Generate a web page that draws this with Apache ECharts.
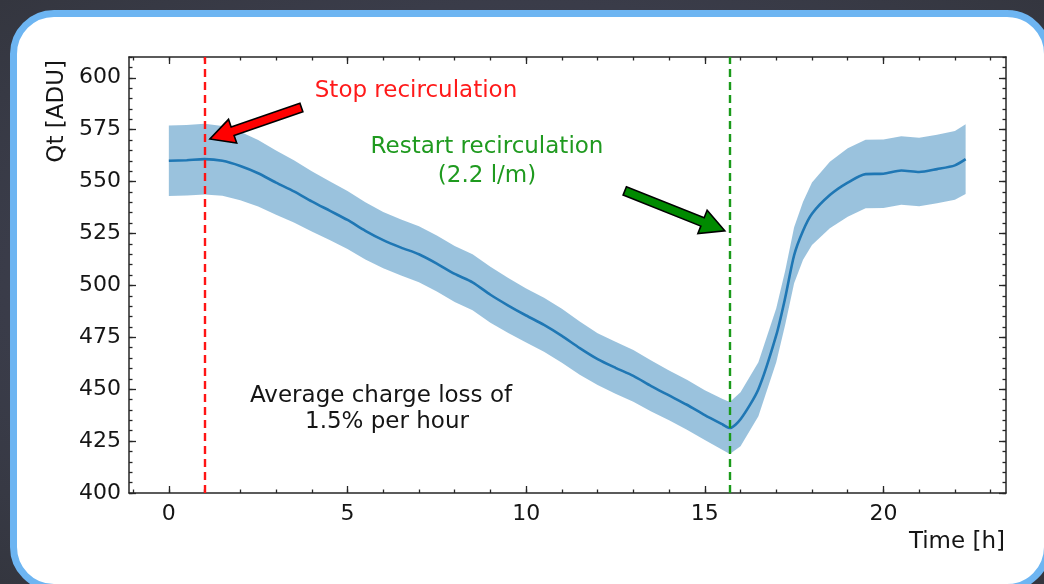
<!DOCTYPE html>
<html>
<head>
<meta charset="utf-8">
<title>Qt vs time during recirculation stop</title>
<script src="https://cdn.jsdelivr.net/npm/echarts@6/dist/echarts.min.js"></script>
<style>
  html, body { margin: 0; padding: 0; width: 1044px; height: 584px; overflow: hidden; }
  body { background: radial-gradient(ellipse at center, #44475a 0%, #3a3c49 70%, #34363f 100%); position: relative; }
  .frame {
    position: absolute; left: 10px; top: 10px; width: 1027px; height: 567px;
    border: 7px solid #6db5f2; border-radius: 44px; background: #ffffff;
  }
  #chart { position: absolute; left: 0; top: 0; width: 1044px; height: 584px; }
</style>
</head>
<body>
<div class="frame"></div>
<div id="chart"></div>
<script>
// Time since the start of the run, in hours
const hours = [0, 0.5, 1.0, 1.5, 2.0, 2.5, 3.0, 3.5, 4.0, 4.5, 5.0, 5.5, 6.0, 6.5, 7.0, 7.5,
  8.0, 8.5, 9.0, 9.5, 10.0, 10.5, 11.0, 11.5, 12.0, 12.5, 13.0, 13.5, 14.0, 14.5, 15.0, 15.5,
  15.7, 16.0, 16.5, 17.0, 17.25, 17.5, 17.75, 18.0, 18.5, 19.0, 19.5, 20.0, 20.5, 21.0, 21.5, 22.0, 22.3];

// Mean charge Qt [ADU]
const meanQt = [560.0, 560.3, 560.8, 560.0, 557.5, 554.0, 549.5, 545.3, 540.5, 536.0, 531.5, 526.3,
  521.8, 518.2, 515.0, 510.5, 505.5, 501.5, 495.5, 490.3, 485.5, 481.0, 475.7, 469.8, 464.5, 460.3,
  456.4, 451.5, 447.0, 442.5, 437.5, 433.0, 431.3, 435.5, 450.0, 476.0, 494.0, 514.5, 526.3, 534.5,
  543.5, 549.5, 553.6, 553.8, 555.3, 554.6, 556.0, 557.8, 560.8];

// Spread of Qt around the mean [ADU]
const spreadQt = [17.0, 17.0, 17.0, 16.8, 16.5, 16.0, 15.5, 15.0, 14.5, 14.2, 14.0, 13.8, 13.5,
  13.5, 13.5, 13.5, 13.5, 13.5, 13.5, 13.2, 13.0, 13.0, 13.0, 12.8, 12.5, 12.5, 12.5, 12.3, 12.0,
  12.0, 12.0, 12.3, 12.5, 13.0, 13.0, 13.0, 13.0, 13.5, 14.0, 15.0, 16.0, 16.5, 16.5, 16.5, 16.5,
  16.5, 16.5, 16.5, 16.8];

// Moments when recirculation was stopped and restarted [h]
const eventTimes = [1.0, 15.7];
const eventColors = ['#ff1414', '#1a9a1a'];

// Annotation arrows: [tail time, tail Qt, tip time, tip Qt]
const arrowRed = [3.71, 585.7, 1.15, 570.5];
const arrowGreen = [12.76, 545.5, 15.56, 526.3];

// Axis ticks
const xTicks = [0, 5, 10, 15, 20];
const yTicks = [400, 425, 450, 475, 500, 525, 550, 575, 600];
const xMinorTicks = [];
for (let t = -1; t <= 23; t += 1) xMinorTicks.push(t);
const yMinorTicks = [];
for (let v = 400; v <= 610; v += 5) yMinorTicks.push(v);

const X_MIN = -1.115, X_MAX = 23.43, Y_MIN = 400, Y_MAX = 610;
const FONT = 'DejaVu Sans';
const TXT = '#151515';
const AXIS = '#262626';

const meanLine = meanQt.map((m, i) => [hours[i], m]);
const bandRows = meanQt.map((m, i) => [hours[i], m - spreadQt[i], m + spreadQt[i]]);

function xAxisDef(pos, ticks, len, withLabels, withLine) {
  return {
    type: 'value', position: pos, min: X_MIN, max: X_MAX,
    axisLine: { show: withLine, onZero: false, lineStyle: { color: AXIS, width: 1.5 } },
    axisTick: { show: true, inside: true, length: len, customValues: ticks,
      lineStyle: { color: AXIS, width: 1.3 } },
    axisLabel: { show: withLabels, customValues: ticks, margin: 10,
      fontFamily: FONT, fontSize: 22, color: TXT },
    splitLine: { show: false }
  };
}
function yAxisDef(pos, ticks, len, withLabels, withLine) {
  return {
    type: 'value', position: pos, min: Y_MIN, max: Y_MAX,
    axisLine: { show: withLine, onZero: false, lineStyle: { color: AXIS, width: 1.5 } },
    axisTick: { show: true, inside: true, length: len, customValues: ticks,
      lineStyle: { color: AXIS, width: 1.3 } },
    axisLabel: { show: withLabels, customValues: ticks, margin: 8,
      fontFamily: FONT, fontSize: 22, color: TXT },
    splitLine: { show: false }
  };
}

// Shaded spread band, drawn as one polygon (lower edge forward, upper edge back)
function renderBand(params, api) {
  if (params.dataIndex !== 0) return null;
  const lower = bandRows.map(r => api.coord([r[0], r[1]]));
  const upper = bandRows.map(r => api.coord([r[0], r[2]])).reverse();
  return {
    type: 'polygon',
    shape: { points: lower.concat(upper) },
    style: { fill: 'rgba(31,119,180,0.45)' }
  };
}

function renderArrow(params, api) {
  const p0 = api.coord([api.value(0), api.value(1)]);
  const p1 = api.coord([api.value(2), api.value(3)]);
  const dx = p1[0] - p0[0], dy = p1[1] - p0[1];
  const len = Math.sqrt(dx * dx + dy * dy);
  const ux = dx / len, uy = dy / len, nx = -uy, ny = ux;
  const sw = 4.5, hw = 12.5, hl = 24;
  const bx = p1[0] - ux * hl, by = p1[1] - uy * hl;
  const pts = [
    [p0[0] + nx * sw, p0[1] + ny * sw],
    [bx + nx * sw, by + ny * sw],
    [bx + nx * hw, by + ny * hw],
    [p1[0], p1[1]],
    [bx - nx * hw, by - ny * hw],
    [bx - nx * sw, by - ny * sw],
    [p0[0] - nx * sw, p0[1] - ny * sw]
  ];
  return {
    type: 'polygon',
    shape: { points: pts },
    style: { fill: api.value(4) === 0 ? '#ff0000' : '#008a00', stroke: '#000', lineWidth: 1.6, lineJoin: 'miter' }
  };
}

const chart = echarts.init(document.getElementById('chart'), null, { renderer: 'canvas' });

chart.setOption({
  backgroundColor: 'transparent',
  animation: false,
  grid: { left: 129, top: 57, width: 877, height: 436, show: false },
  xAxis: [
    xAxisDef('bottom', xTicks, 7, true, true),
    xAxisDef('bottom', xMinorTicks, 3.5, false, false),
    xAxisDef('top', xTicks, 7, false, true),
    xAxisDef('top', xMinorTicks, 3.5, false, false)
  ],
  yAxis: [
    yAxisDef('left', yTicks, 7, true, true),
    yAxisDef('left', yMinorTicks, 3.5, false, false),
    yAxisDef('right', yTicks, 7, false, true),
    yAxisDef('right', yMinorTicks, 3.5, false, false)
  ],
  series: [
    {
      name: 'spread', type: 'custom', renderItem: renderBand, data: bandRows,
      encode: { x: 0, y: [1, 2] }, z: 1, silent: true
    },
    {
      name: 'mean', type: 'line', data: meanLine, symbol: 'none', smooth: 0.25,
      lineStyle: { color: '#1f77b4', width: 2.6 }, z: 3,
      markLine: {
        silent: true, symbol: 'none', label: { show: false },
        data: eventTimes.map((t, i) => ({
          xAxis: t, lineStyle: { color: eventColors[i], width: 2.4, type: [8, 5] }
        }))
      }
    },
    {
      name: 'arrows', type: 'custom', renderItem: renderArrow, z: 5,
      data: [arrowRed.concat([0]), arrowGreen.concat([1])]
    }
  ],
  graphic: [
    { type: 'text', x: 57, y: 60, rotation: Math.PI / 2,
      style: { text: 'Qt [ADU]', align: 'right', verticalAlign: 'middle', font: '23px "DejaVu Sans"', fill: TXT } },
    { type: 'text', x: 1005, y: 542,
      style: { text: 'Time [h]', align: 'right', verticalAlign: 'middle', font: '23px "DejaVu Sans"', fill: TXT } },
    { type: 'text', x: 416, y: 91, z: 10,
      style: { text: 'Stop recirculation', align: 'center', verticalAlign: 'middle', font: '23px "DejaVu Sans"', fill: '#ff1a1a' } },
    { type: 'text', x: 487, y: 147, z: 10,
      style: { text: 'Restart recirculation', align: 'center', verticalAlign: 'middle', font: '23px "DejaVu Sans"', fill: '#1f9a1f' } },
    { type: 'text', x: 487, y: 176, z: 10,
      style: { text: '(2.2 l/m)', align: 'center', verticalAlign: 'middle', font: '23px "DejaVu Sans"', fill: '#1f9a1f' } },
    { type: 'text', x: 381, y: 396, z: 10,
      style: { text: 'Average charge loss of', align: 'center', verticalAlign: 'middle', font: '23px "DejaVu Sans"', fill: TXT } },
    { type: 'text', x: 387, y: 422, z: 10,
      style: { text: '1.5% per hour', align: 'center', verticalAlign: 'middle', font: '23px "DejaVu Sans"', fill: TXT } }
  ]
});
</script>
</body>
</html>
